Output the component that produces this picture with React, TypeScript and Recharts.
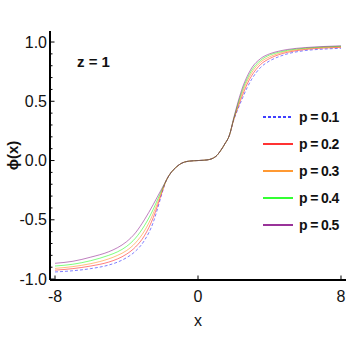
import React from "react";
import { LineChart, Line, XAxis, YAxis, Legend } from "recharts";

const xValues = [
  -8, -7, -6, -5, -4.5, -4, -3.5, -3, -2.5, -2.25, -2,
  -1.75, -1.5, -1.25, -1, -0.5, 0, 0.5, 1, 1.25, 1.5, 1.75,
  2, 2.25, 2.5, 2.75, 3, 3.5, 4, 4.5, 5, 6, 7, 8,
];

const phiP01 = [
  -0.94, -0.93, -0.912, -0.882, -0.857, -0.82, -0.765, -0.675, -0.52, -0.4, -0.27,
  -0.16, -0.1, -0.06, -0.03, -0.005, 0, 0.005, 0.035, 0.08, 0.14, 0.21,
  0.34, 0.44, 0.53, 0.615, 0.685, 0.785, 0.84, 0.875, 0.9, 0.928, 0.94, 0.947,
];
const phiP02 = [
  -0.925, -0.912, -0.89, -0.857, -0.83, -0.79, -0.73, -0.635, -0.48, -0.375, -0.26,
  -0.16, -0.1, -0.06, -0.03, -0.005, 0, 0.005, 0.035, 0.08, 0.14, 0.21,
  0.345, 0.455, 0.555, 0.645, 0.715, 0.81, 0.86, 0.892, 0.913, 0.937, 0.949, 0.955,
];
const phiP03 = [
  -0.91, -0.895, -0.87, -0.83, -0.8, -0.76, -0.695, -0.595, -0.445, -0.35, -0.25,
  -0.16, -0.1, -0.06, -0.03, -0.005, 0, 0.005, 0.035, 0.08, 0.14, 0.21,
  0.35, 0.47, 0.58, 0.67, 0.74, 0.83, 0.875, 0.903, 0.922, 0.943, 0.954, 0.96,
];
const phiP04 = [
  -0.89, -0.875, -0.845, -0.8, -0.77, -0.725, -0.655, -0.55, -0.41, -0.325, -0.24,
  -0.16, -0.1, -0.06, -0.03, -0.005, 0, 0.005, 0.035, 0.08, 0.14, 0.21,
  0.355, 0.485, 0.6, 0.69, 0.76, 0.845, 0.89, 0.913, 0.93, 0.948, 0.958, 0.964,
];
const phiP05 = [
  -0.867, -0.85, -0.815, -0.77, -0.735, -0.685, -0.61, -0.5, -0.37, -0.3, -0.23,
  -0.16, -0.1, -0.06, -0.03, -0.005, 0, 0.005, 0.035, 0.08, 0.14, 0.21,
  0.36, 0.5, 0.62, 0.71, 0.78, 0.86, 0.9, 0.922, 0.937, 0.953, 0.962, 0.968,
];

const xTicks = [-8, 0, 8];
const yTicks = [
  -1, -0.9, -0.8, -0.7, -0.6, -0.5, -0.4, -0.3, -0.2, -0.1, 0,
  0.1, 0.2, 0.3, 0.4, 0.5, 0.6, 0.7, 0.8, 0.9, 1,
];

const series = [
  { key: "p01", label: "p = 0.1", color: "#0000ff", dash: "3 2", values: phiP01 },
  { key: "p02", label: "p = 0.2", color: "#ff0000", dash: undefined, values: phiP02 },
  { key: "p03", label: "p = 0.3", color: "#ff8000", dash: undefined, values: phiP03 },
  { key: "p04", label: "p = 0.4", color: "#00ff00", dash: undefined, values: phiP04 },
  { key: "p05", label: "p = 0.5", color: "#800080", dash: undefined, values: phiP05 },
];

const data = xValues.map((x, i) => {
  const row: Record<string, number> = { x };
  series.forEach((s) => { row[s.key] = s.values[i]; });
  return row;
});

const FONT = "'Liberation Sans', Arial, sans-serif";
const GAP = 3;
const isMajor = (v: number) => Math.abs(v * 2 - Math.round(v * 2)) < 1e-6;

const LeftTick = (props: any) => {
  const { x, y, payload } = props;
  const v = payload.value;
  const major = isMajor(v);
  const ax = x + GAP;
  return (
    <g>
      <line x1={ax} y1={y} x2={ax + (major ? 4.5 : 2.5)} y2={y} stroke="#000" strokeWidth={1} />
      {major && (
        <text x={x} y={y} textAnchor="end" dominantBaseline="central" fontSize={16} fontFamily={FONT} fill="#111">
          {v.toFixed(1)}
        </text>
      )}
    </g>
  );
};

const RightTick = (props: any) => {
  const { x, y, payload } = props;
  const major = isMajor(payload.value);
  const ax = x - GAP;
  return <line x1={ax} y1={y} x2={ax - (major ? 4.5 : 2.5)} y2={y} stroke="#000" strokeWidth={1} />;
};

const BottomTick = (props: any) => {
  const { x, y, payload } = props;
  const ay = y - GAP;
  return (
    <g>
      <line x1={x} y1={ay} x2={x} y2={ay - 4.5} stroke="#000" strokeWidth={1} />
      <text x={x} y={ay + 21.5} textAnchor="middle" fontSize={16} fontFamily={FONT} fill="#111">
        {String(payload.value)}
      </text>
    </g>
  );
};

const TopTick = (props: any) => {
  const { x, y } = props;
  const ay = y + GAP;
  return <line x1={x} y1={ay} x2={x} y2={ay + 4.5} stroke="#000" strokeWidth={1} />;
};

const XLabel = (props: any) => {
  const { viewBox } = props;
  return (
    <text x={viewBox.x + viewBox.width / 2} y={viewBox.y + 46} textAnchor="middle" fontSize={16} fontFamily={FONT} fill="#111">
      x
    </text>
  );
};

const YLabel = (props: any) => {
  const { viewBox } = props;
  const cx = viewBox.x + 12;
  const cy = viewBox.y + viewBox.height / 2;
  return (
    <text x={cx} y={cy} transform={`rotate(-90, ${cx}, ${cy})`} textAnchor="middle" dominantBaseline="central"
      fontSize={15} fontWeight="bold" fontFamily={FONT} fill="#111">
      ϕ(x)
    </text>
  );
};

const renderLegend = () => (
  <div style={{ fontFamily: FONT }}>
    {series.map((s) => (
      <div key={s.key} style={{ height: 27.2, display: "flex", alignItems: "center" }}>
        <svg width={30} height={6} style={{ display: "block" }}>
          <line x1={0} y1={3} x2={30} y2={3} stroke={s.color} strokeWidth={1.6} strokeDasharray={s.dash} />
        </svg>
        <span style={{ marginLeft: 6, fontSize: 14, letterSpacing: -0.6, fontWeight: "bold", color: "#111", whiteSpace: "nowrap" }}>
          {s.label}
        </span>
      </div>
    ))}
  </div>
);

const App: React.FC = () => (
  <div style={{ position: "absolute", left: 0, top: 0, width: 353, height: 360, background: "#fff" }}>
    <LineChart width={353} height={360} data={data} margin={{ top: 31, right: 7, left: 0, bottom: 50 }}>
      <XAxis
        xAxisId="b" type="number" dataKey="x" domain={[-8.28, 8.28]} ticks={xTicks}
        height={30} tickSize={0} tickMargin={GAP} tick={BottomTick} interval={0}
        axisLine={{ stroke: "#000", strokeWidth: 2 }} label={XLabel}
      />
      <XAxis
        xAxisId="t" orientation="top" type="number" dataKey="x" domain={[-8.28, 8.28]} ticks={xTicks}
        height={0} tickSize={0} tickMargin={GAP} tick={TopTick} interval={0}
        axisLine={{ stroke: "#000", strokeWidth: 2 }}
      />
      <YAxis
        yAxisId="l" type="number" domain={[-1.008, 1.093]} ticks={yTicks} width={50}
        tickSize={0} tickMargin={GAP} tick={LeftTick} interval={0}
        axisLine={{ stroke: "#000", strokeWidth: 2 }} label={YLabel}
      />
      <YAxis
        yAxisId="r" orientation="right" type="number" domain={[-1.008, 1.093]} ticks={yTicks} width={0}
        tickSize={0} tickMargin={GAP} tick={RightTick} interval={0}
        axisLine={{ stroke: "#000", strokeWidth: 2 }}
      />
      <Legend
        layout="vertical" align="center" verticalAlign="middle" content={renderLegend}
        wrapperStyle={{ left: 263, top: 103, width: 90 }}
      />
      {series.map((s) => (
        <Line
          key={s.key} xAxisId="b" yAxisId="l" type="monotone" dataKey={s.key} name={s.label}
          stroke={s.color} strokeOpacity={0.5} strokeWidth={1} strokeDasharray={s.dash}
          dot={false} activeDot={false} isAnimationActive={false}
        />
      ))}
    </LineChart>
    <div style={{ position: "absolute", left: 77, top: 53, fontFamily: FONT, fontSize: 15, fontWeight: "bold", color: "#111", lineHeight: "18px" }}>
      z = 1
    </div>
  </div>
);

export default App;
